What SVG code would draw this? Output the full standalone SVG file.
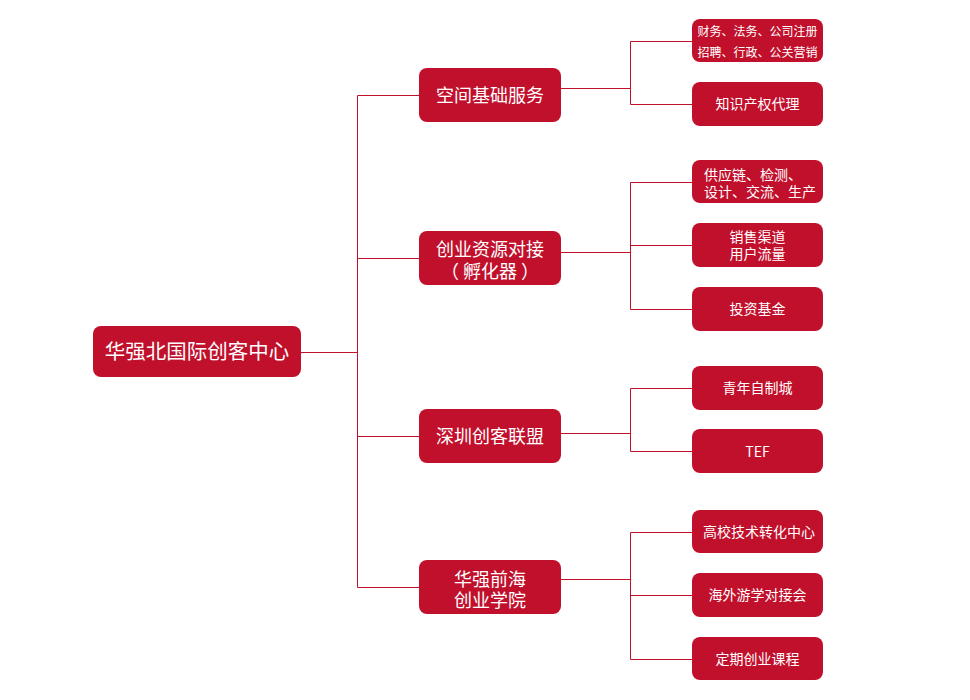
<svg xmlns="http://www.w3.org/2000/svg" width="970" height="700" viewBox="0 0 970 700">
<style>
.n{fill:#C1102C}
.t{fill:#fff;font-family:"Noto Sans CJK SC","Noto Sans",sans-serif;text-anchor:middle}
.r{font-size:20.5px}
.l1{font-size:18px}
.l2{font-size:14px}
.s{font-size:12px}
.c{stroke:#C1102C;stroke-width:1;fill:none}
</style>
<rect width="970" height="700" fill="#fff"/>
<g id="connectors" class="c">
<path d="M301 352.5H357.5M357.5 95.5V587.5M357.5 95.5H419M357.5 258.5H419M357.5 436.5H419M357.5 587.5H419"/>
<path d="M561 88.5H630.5M630.5 41.5V104.5M630.5 41.5H692M630.5 104.5H692"/>
<path d="M561 252.5H630.5M630.5 182.5V309.5M630.5 182.5H692M630.5 245.5H692M630.5 309.5H692"/>
<path d="M561 433.5H630.5M630.5 388.5V451.5M630.5 388.5H692M630.5 451.5H692"/>
<path d="M561 579.5H630.5M630.5 532.5V659.5M630.5 532.5H692M630.5 595.5H692M630.5 659.5H692"/>
</g>
<g id="root"><rect class="n" x="93" y="326" width="208" height="51" rx="8"/><text class="t r" x="197" y="359">华强北国际创客中心</text></g>
<g id="n1"><rect class="n" x="419" y="68" width="142" height="54" rx="8"/><text class="t l1" x="490" y="102">空间基础服务</text></g>
<g id="n2"><rect class="n" x="419" y="231" width="142" height="54" rx="8"/><text class="t l1" x="490" y="256">创业资源对接</text><text class="t l1" x="490" y="278">（ 孵化器 ）</text></g>
<g id="n3"><rect class="n" x="419" y="409" width="142" height="54" rx="8"/><text class="t l1" x="490" y="443">深圳创客联盟</text></g>
<g id="n4"><rect class="n" x="419" y="560" width="142" height="54" rx="8"/><text class="t l1" x="490" y="586">华强前海</text><text class="t l1" x="490" y="607">创业学院</text></g>
<g id="n1a"><rect class="n" x="692" y="19" width="131" height="43" rx="8"/><text class="t s" x="757.5" y="36">财务、法务、公司注册</text><text class="t s" x="757.5" y="57">招聘、行政、公关营销</text></g>
<g id="n1b"><rect class="n" x="692" y="82" width="131" height="44" rx="8"/><text class="t l2" x="757.5" y="109">知识产权代理</text></g>
<g id="n2a"><rect class="n" x="692" y="160" width="131" height="43" rx="8"/><text class="t l2" x="704" y="180" style="text-anchor:start">供应链、检测、</text><text class="t l2" x="704" y="197" style="text-anchor:start">设计、交流、生产</text></g>
<g id="n2b"><rect class="n" x="692" y="223" width="131" height="44" rx="8"/><text class="t l2" x="757.5" y="242">销售渠道</text><text class="t l2" x="757.5" y="259">用户流量</text></g>
<g id="n2c"><rect class="n" x="692" y="287" width="131" height="44" rx="8"/><text class="t l2" x="757.5" y="314">投资基金</text></g>
<g id="n3a"><rect class="n" x="692" y="366" width="131" height="44" rx="8"/><text class="t l2" x="757.5" y="393">青年自制城</text></g>
<g id="n3b"><rect class="n" x="692" y="429" width="131" height="44" rx="8"/><text class="t l2" x="757.5" y="457">TEF</text></g>
<g id="n4a"><rect class="n" x="692" y="510" width="131" height="43" rx="8"/><text class="t l2" x="759" y="537">高校技术转化中心</text></g>
<g id="n4b"><rect class="n" x="692" y="573" width="131" height="44" rx="8"/><text class="t l2" x="757.5" y="600">海外游学对接会</text></g>
<g id="n4c"><rect class="n" x="692" y="637" width="131" height="43" rx="8"/><text class="t l2" x="757.5" y="664">定期创业课程</text></g>
</svg>
